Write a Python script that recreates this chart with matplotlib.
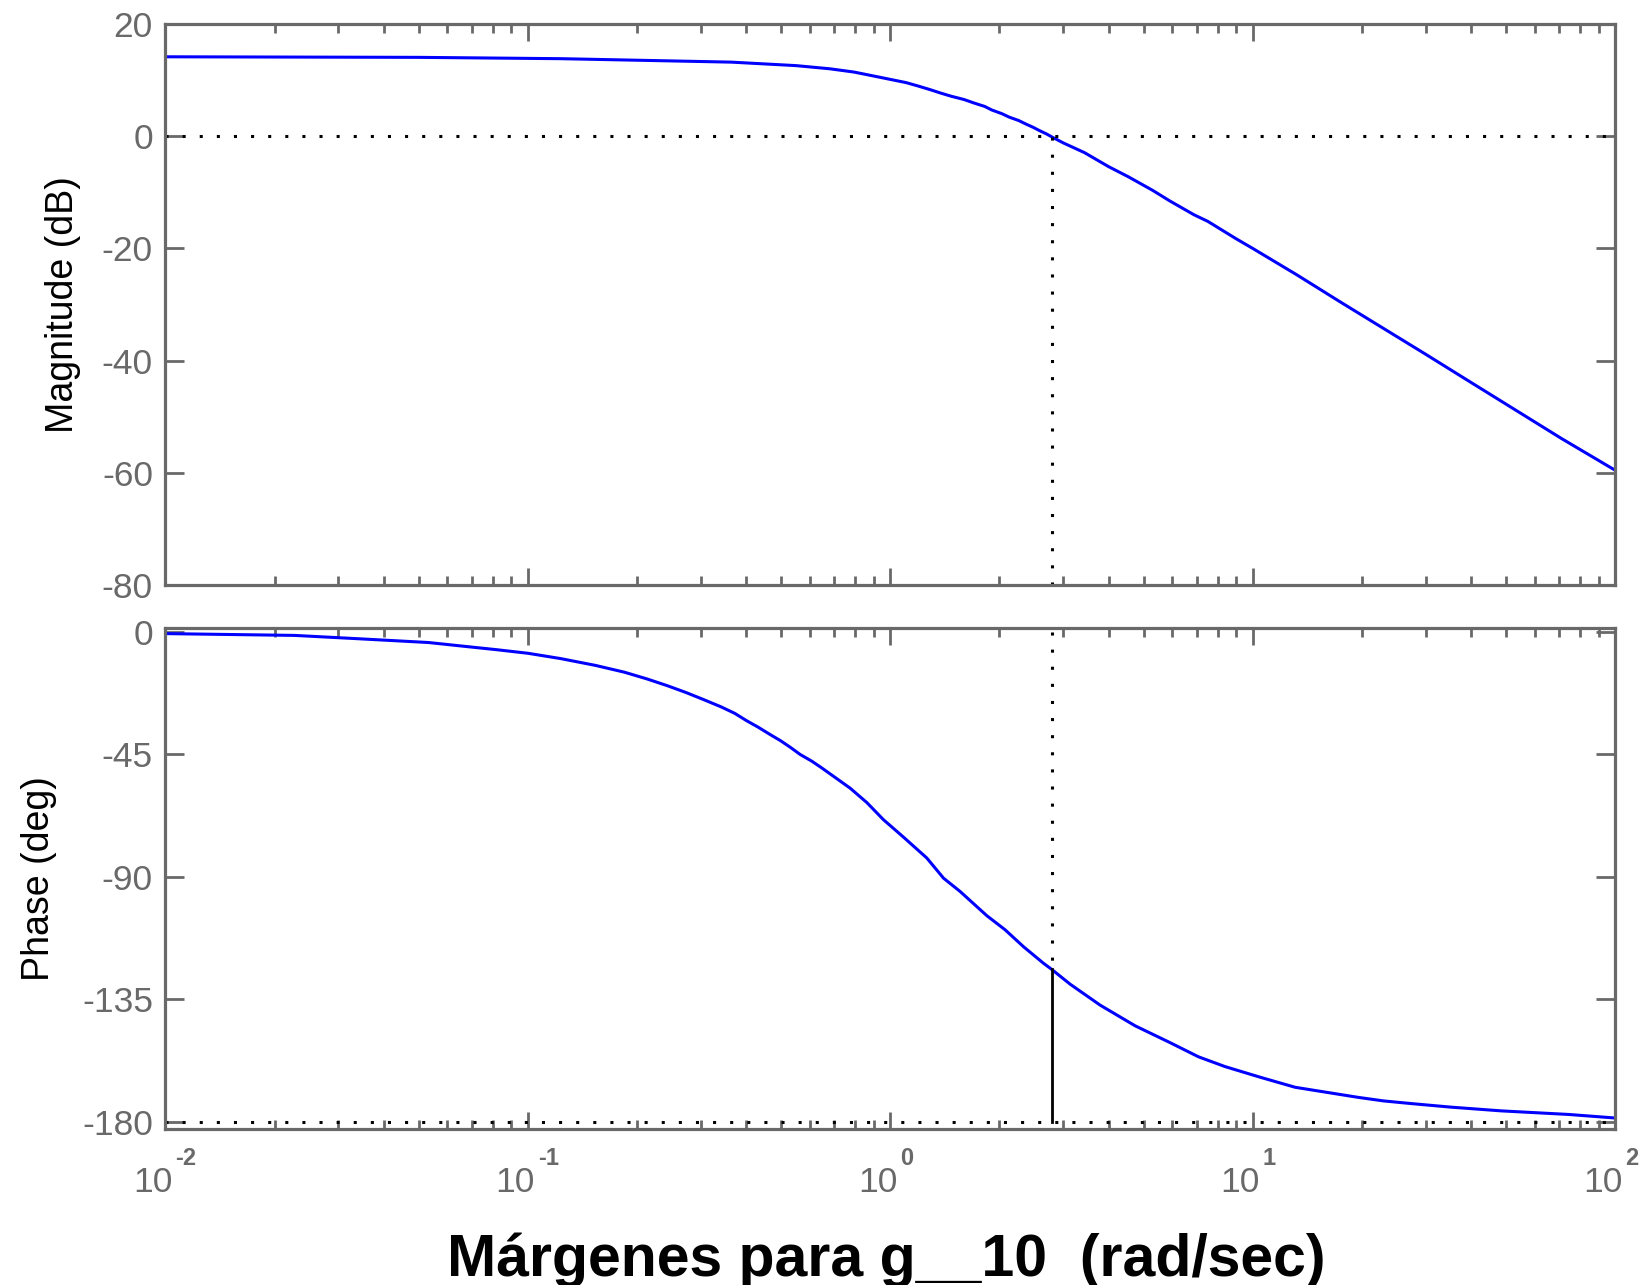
import matplotlib
matplotlib.use("Agg")
import matplotlib.pyplot as plt
from matplotlib.ticker import NullLocator, FixedLocator
from matplotlib.transforms import blended_transform_factory, offset_copy

plt.rcParams['font.family'] = ['Liberation Sans', 'DejaVu Sans']
plt.rcParams['axes.unicode_minus'] = False

# magnitude of the open loop response (rad/s, dB)
mag_w = [0.01, 0.05, 0.124, 0.364, 0.549, 0.682, 0.794, 0.885, 0.987, 1.106,
         1.197, 1.288, 1.371, 1.468, 1.598, 1.702, 1.822, 1.907, 2.032, 2.128,
         2.261, 2.366, 2.477, 2.578, 2.698, 2.806, 3.003, 3.433, 3.998, 4.540,
         5.302, 5.890, 6.880, 7.518, 8.981, 9.98, 13.26, 17.4, 22.88, 30.0,
         39.4, 51.8, 71.1, 100.0]
mag_db = [14.1, 14.0, 13.76, 13.15, 12.53, 11.96, 11.38, 10.77, 10.15, 9.50,
          8.87, 8.25, 7.68, 7.10, 6.49, 5.87, 5.26, 4.62, 3.97, 3.36,
          2.75, 2.13, 1.55, 0.97, 0.36, -0.25, -1.24, -2.96, -5.44, -7.27,
          -9.70, -11.52, -14.01, -15.20, -18.26, -19.98, -24.75, -29.5, -34.2, -38.85,
          -43.6, -48.35, -53.85, -59.5]

# phase (rad/s, deg)
ph_w = [0.01, 0.0227, 0.035, 0.0532, 0.066, 0.0819, 0.1, 0.1233, 0.1536, 0.1846,
        0.2134, 0.2429, 0.2734, 0.3061, 0.3414, 0.372, 0.4003, 0.4322, 0.4637, 0.4985,
        0.5313, 0.5637, 0.6075, 0.6475, 0.7745, 0.8614, 0.9572, 1.0869, 1.261, 1.402,
        1.558, 1.846, 2.074, 2.330, 2.646, 2.785, 3.135, 3.793, 4.737, 5.917,
        7.084, 8.389, 10.48, 13.09, 19.52, 22.9, 27.4, 35.2, 48.4, 74.5,
        100.0]
ph_deg = [-0.57, -1.23, -2.54, -3.85, -5.17, -6.48, -7.80, -9.77, -12.26, -14.76,
          -17.26, -19.76, -22.26, -24.89, -27.52, -29.88, -32.51, -35.01, -37.51, -40.0,
          -42.5, -45.0, -47.5, -50.0, -57.4, -62.7, -69.0, -75.4, -83.1, -90.5,
          -95.4, -104.3, -109.5, -115.7, -121.8, -124.0, -129.5, -137.2, -144.8, -151.0,
          -156.2, -159.8, -163.7, -167.4, -171.1, -172.4, -173.4, -174.7, -176.07, -177.4,
          -178.7]

# gain crossover and phase there
wc = 2.785
phase_wc = -124.0

mag_ticks = [20, 0, -20, -40, -60, -80]
ph_ticks = [0, -45, -90, -135, -180]
decades = [-2, -1, 0, 1, 2]

GRAY = '#696969'
DOTS = (0, (1, 4.6))

fig = plt.figure(figsize=(16.48, 12.85), dpi=100)
ax1 = fig.add_axes([0.1004, 0.5444, 0.8797, 0.4372])
ax2 = fig.add_axes([0.1004, 0.1217, 0.8797, 0.3896])

for ax in (ax1, ax2):
    ax.set_xscale('log')
    ax.set_xlim(0.01, 100)
    for s in ax.spines.values():
        s.set_color(GRAY)
        s.set_linewidth(2.3)
    ax.yaxis.set_minor_locator(NullLocator())
    ax.tick_params(which='both', direction='in', top=True, right=True,
                   color=GRAY, labelcolor=GRAY, width=2, labelsize=25.5)
    ax.tick_params(axis='y', which='major', length=14, pad=9)
    ax.tick_params(axis='x', which='major', length=12)
    ax.tick_params(axis='x', which='minor', length=6.5)
    ax.tick_params(labelbottom=False)

# magnitude
ax1.plot(mag_w, mag_db, color='blue', lw=2.2)
ax1.axhline(0, color='black', ls=DOTS, lw=2.2)
ax1.plot([wc, wc], [-80, 0], color='black', ls=DOTS, lw=2.2)
ax1.set_ylim(-80, 20)
ax1.yaxis.set_major_locator(FixedLocator(mag_ticks))
ax1.set_ylabel('Magnitude (dB)', fontsize=27, labelpad=15)

# phase
ax2.plot(ph_w, ph_deg, color='blue', lw=2.2)
ax2.axhline(-180, color='black', ls=DOTS, lw=2.2)
ax2.plot([wc, wc], [0, phase_wc], color='black', ls=DOTS, lw=2.2)
ax2.plot([wc, wc], [phase_wc, -180], color='black', lw=2.0)
ax2.set_ylim(-182.6, 1.5)
ax2.yaxis.set_major_locator(FixedLocator(ph_ticks))
ax2.set_ylabel('Phase (deg)', fontsize=27, labelpad=18)

# decade labels: "10" with the exponent set up and to the right
trans = blended_transform_factory(ax2.transData, ax2.transAxes)
base_tr = offset_copy(trans, fig=fig, x=7, y=-63, units='dots')
exp_tr = offset_copy(trans, fig=fig, x=10, y=-36, units='dots')
for d in decades:
    ax2.text(10.0 ** d, 0, '10', transform=base_tr, ha='right', va='baseline',
             fontsize=25.5, color=GRAY)
    ax2.text(10.0 ** d, 0, str(d), transform=exp_tr, ha='left', va='baseline',
             fontsize=17, fontweight='bold', color=GRAY)

fig.text(0.538, 1 - 1276 / 1285, 'Márgenes para g__10  (rad/sec)',
         ha='center', va='baseline', fontsize=42.5, fontweight='bold')

fig.savefig('out.png', dpi=100)
